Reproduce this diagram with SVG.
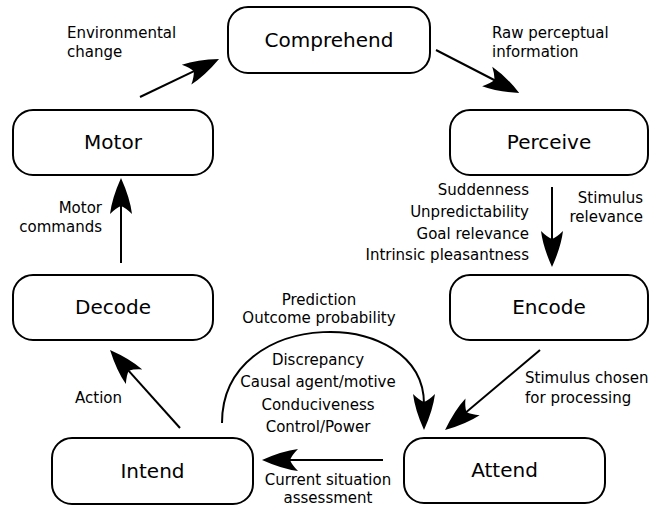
<svg xmlns="http://www.w3.org/2000/svg" width="652" height="507" viewBox="0 0 652 507">
<defs>
<marker id="ah" markerUnits="userSpaceOnUse" viewBox="-12 -13 40 26" markerWidth="40" markerHeight="26" refX="0" refY="0" orient="auto" overflow="visible">
<path d="M26,0 Q6,-9 -10,-11 Q-4,-5 -2,0 Q-4,5 -10,11 Q6,9 26,0 Z" fill="#000"/>
</marker>
<style>
.box{fill:#fff;stroke:#000;stroke-width:2}
.nl{font-family:"DejaVu Sans",sans-serif;font-size:20px;text-anchor:middle;fill:#000}
.cl{font-family:"DejaVu Sans",sans-serif;font-size:15px;fill:#000}
.c{fill:none;stroke:#000;stroke-width:2;marker-end:url(#ah)}
</style>
</defs>
<rect width="652" height="507" fill="#fff"/>
<g id="connectors">
<line class="c" x1="140" y1="97" x2="195.6" y2="70.3"/>
<line class="c" x1="436" y1="50" x2="496.1" y2="81"/>
<line class="c" x1="552" y1="187" x2="552" y2="241"/>
<line class="c" x1="540" y1="350" x2="464.9" y2="413.3"/>
<line class="c" x1="383" y1="460" x2="288" y2="460"/>
<line class="c" x1="180" y1="428" x2="127.4" y2="369.3"/>
<line class="c" x1="121" y1="263" x2="121" y2="204"/>
<path class="c" d="M222,423 C222,305 424,305 424,404"/>
</g>
<g id="labels" class="cl">
<text x="67" y="38">Environmental</text>
<text x="67" y="57">change</text>
<text x="492" y="38">Raw perceptual</text>
<text x="492" y="57">information</text>
<text x="529" y="195" text-anchor="end">Suddenness</text>
<text x="529" y="217" text-anchor="end">Unpredictability</text>
<text x="529" y="239" text-anchor="end">Goal relevance</text>
<text x="529" y="260" text-anchor="end">Intrinsic pleasantness</text>
<text x="643" y="203" text-anchor="end">Stimulus</text>
<text x="643" y="222" text-anchor="end">relevance</text>
<text x="102" y="213" text-anchor="end">Motor</text>
<text x="102" y="232" text-anchor="end">commands</text>
<text x="319" y="305" text-anchor="middle">Prediction</text>
<text x="319" y="323" text-anchor="middle">Outcome probability</text>
<text x="318" y="365" text-anchor="middle">Discrepancy</text>
<text x="318" y="387" text-anchor="middle">Causal agent/motive</text>
<text x="318" y="410" text-anchor="middle">Conduciveness</text>
<text x="318" y="432" text-anchor="middle">Control/Power</text>
<text x="525" y="383">Stimulus chosen</text>
<text x="525" y="403">for processing</text>
<text x="328" y="485" text-anchor="middle">Current situation</text>
<text x="328" y="503" text-anchor="middle">assessment</text>
<text x="75" y="403">Action</text>
</g>
<g id="comprehend"><rect class="box" x="228" y="7" width="202" height="66" rx="20"/><text class="nl" x="329" y="47">Comprehend</text></g>
<g id="perceive"><rect class="box" x="450" y="110" width="198" height="65" rx="20"/><text class="nl" x="549" y="149">Perceive</text></g>
<g id="motor"><rect class="box" x="13" y="110" width="200" height="65" rx="20"/><text class="nl" x="113" y="149">Motor</text></g>
<g id="decode"><rect class="box" x="13" y="275" width="200" height="65" rx="20"/><text class="nl" x="113" y="314">Decode</text></g>
<g id="encode"><rect class="box" x="450" y="275" width="198" height="65" rx="20"/><text class="nl" x="549" y="314">Encode</text></g>
<g id="intend"><rect class="box" x="52" y="438" width="201" height="66" rx="20"/><text class="nl" x="152.5" y="478">Intend</text></g>
<g id="attend"><rect class="box" x="404" y="438" width="201" height="65" rx="20"/><text class="nl" x="504.5" y="477">Attend</text></g>
</svg>
